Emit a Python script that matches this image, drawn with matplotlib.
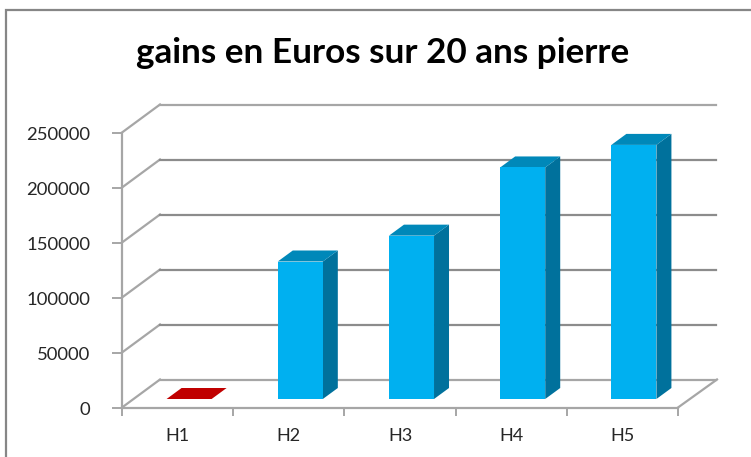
import matplotlib
matplotlib.use("Agg")
import matplotlib.pyplot as plt
from matplotlib.patches import Polygon, Rectangle
from matplotlib.transforms import Affine2D, ScaledTranslation

categories = ["H1", "H2", "H3", "H4", "H5"]
values = [0, 125000, 148500, 210500, 231000]
bar_colors = ["#C00000", "#00B0F0", "#00B0F0", "#00B0F0", "#00B0F0"]
top_colors = ["#C00000", "#0088B9", "#0088B9", "#0088B9", "#0088B9"]
side_colors = ["#C00000", "#00719C", "#00719C", "#00719C", "#00719C"]
y_ticks = [0, 50000, 100000, 150000, 200000, 250000]
title = "gains en Euros sur 20 ans pierre"

W, H = 751, 457
plt.rcParams["font.family"] = ["Lato", "DejaVu Sans"]
fig = plt.figure(figsize=(W / 100, H / 100), dpi=100)
fig.patch.set_facecolor("white")

fig.add_artist(Rectangle((6 / W, -0.02), 1.05, (H - 10) / H + 0.02, transform=fig.transFigure,
                         fill=False, ec="#868686", lw=1.6))
fig.text(383 / W, 1 - 53 / H, title, ha="center", va="center", fontsize=25.3,
         fontweight="bold", color="black")

L, R, Y0, Y1 = 122, 678, 407.5, 132.5
ax = fig.add_axes([L / W, 1 - Y0 / H, (R - L) / W, (Y0 - Y1) / H])
ax.set_xlim(-0.5, 4.5)
ax.set_ylim(0, 250000)
ax.patch.set_alpha(0)

GRID = "#8C8C8C"
AXC = "#A6A6A6"
wall_dx, wall_dy = 38, 28
back = Affine2D().translate(wall_dx, wall_dy)
for v in y_ticks:
    p0 = ax.transData.transform((-0.5, v))
    ax.plot([p0[0], p0[0] + wall_dx], [p0[1], p0[1] + wall_dy], transform=None,
            color=AXC, lw=1.6, clip_on=False, zorder=1)
    ax.plot([-0.5, 4.5], [v, v], transform=ax.transData + back,
            color=GRID if 0 < v < 250000 else AXC, lw=1.6, clip_on=False, zorder=1)
p1 = ax.transData.transform((4.5, 0))
ax.plot([p1[0], p1[0] + wall_dx + 1], [p1[1], p1[1] + wall_dy], transform=None,
        color=AXC, lw=1.6, clip_on=False, zorder=1)

bw = 0.405
base = Affine2D().translate(11.5, 8.5)
dx, dy = 15, 11
for i, (v, c, t, s) in enumerate(zip(values, bar_colors, top_colors, side_colors)):
    x0, x1 = i - bw / 2, i + bw / 2
    tr = ax.transData + base
    (ax0, ay0), (ax1, ay1) = tr.transform([(x0, 0), (x1, v)])
    ax.add_patch(Polygon([(ax1, ay0), (ax1 + dx, ay0 + dy), (ax1 + dx, ay1 + dy), (ax1, ay1)],
                         closed=True, transform=None, fc=s, ec="none", zorder=3, clip_on=False))
    ax.add_patch(Polygon([(ax0, ay1), (ax0 + dx, ay1 + dy), (ax1 + dx, ay1 + dy), (ax1, ay1)],
                         closed=True, transform=None, fc=t, ec="none", zorder=3, clip_on=False))
    ax.add_patch(Rectangle((x0, 0), bw, v, transform=tr, fc=c, ec="none", zorder=4, clip_on=False))

for s in ("top", "right"):
    ax.spines[s].set_visible(False)
for s in ("left", "bottom"):
    ax.spines[s].set_color(AXC)
    ax.spines[s].set_linewidth(1.6)
ax.set_yticks(y_ticks)
ax.set_yticklabels([str(v) for v in y_ticks])
ax.tick_params(axis="y", length=7, width=1.4, color=AXC, labelsize=13.3, labelcolor="#262626", pad=12)
shift = ScaledTranslation(-5.5 / 100, -1 / 100, fig.dpi_scale_trans)
for lab in ax.get_yticklabels():
    lab.set_transform(lab.get_transform() + shift)
ax.set_xticks(range(len(categories)))
ax.set_xticklabels(categories)
ax.set_xticks([i - 0.5 for i in range(len(categories) + 1)], minor=True)
ax.tick_params(axis="x", which="major", length=0, pad=15, labelsize=13, labelcolor="#262626")
ax.tick_params(axis="x", which="minor", length=6, width=1.4, color=AXC)

fig.savefig("out.png", dpi=100)
